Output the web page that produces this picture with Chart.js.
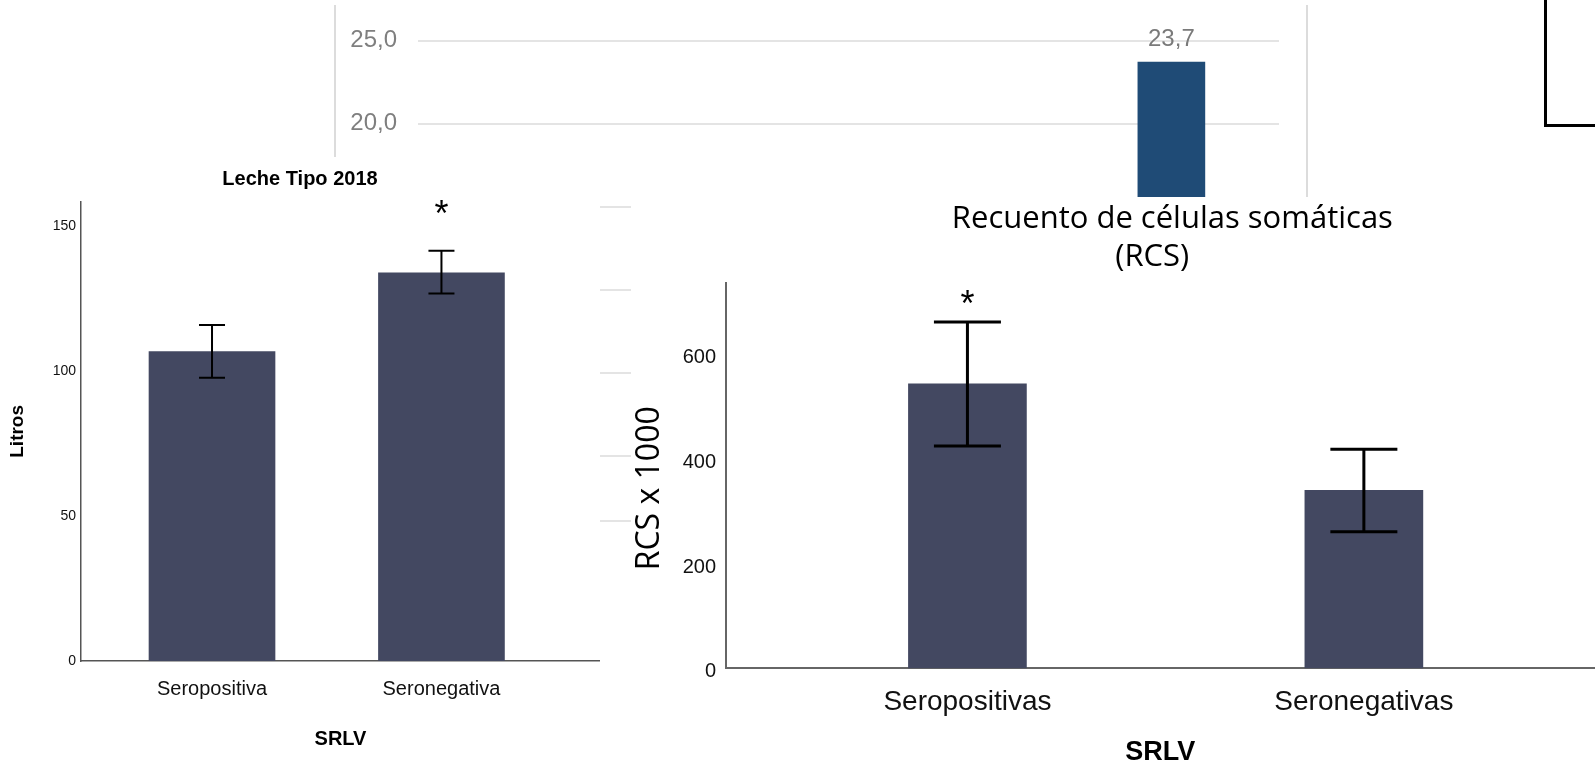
<!DOCTYPE html>
<html>
<head>
<meta charset="utf-8">
<script src="https://cdn.jsdelivr.net/npm/chart.js@4.4.1/dist/chart.umd.min.js"></script>
<style>
  html, body { margin:0; padding:0; background:#fff; width:1595px; height:766px; overflow:hidden; position:relative; }
  canvas { position:absolute; display:block; }
  #topChart { left:0; top:0; z-index:1; }
  #frame { position:absolute; left:334px; top:5px; width:970px; height:200px;
           border-left:2px solid #dcdcdc; border-right:2px solid #dcdcdc; z-index:1; }
  #leftChart { left:0; top:157px; background:#fff; z-index:2; }
  #rightChart { left:631px; top:197px; background:#fff; z-index:3; }
  #box { position:absolute; left:1544px; top:-3px; width:60px; height:127px;
         border-left:3px solid #000; border-bottom:3px solid #000; z-index:4; }
</style>
</head>
<body>
<div id="frame"></div>
<canvas id="topChart" width="1595" height="556"></canvas>
<canvas id="leftChart" width="600" height="609"></canvas>
<canvas id="rightChart" width="964" height="569"></canvas>
<div id="box"></div>
<script>
// ---------- DATA ----------
// Top (partially hidden) chart
const topSlots  = ['1', '2', '3', '4'];
const topValues = [null, null, null, 23.7];

// Left chart: Leche Tipo 2018
const leftCategories = ['Seropositiva', 'Seronegativa'];
const leftMeans      = [106.7, 133.9];
const leftErrLow     = [97.7, 126.7];
const leftErrHigh    = [115.9, 141.5];
const leftMarks      = ['', '*'];
const leftTicks      = [0, 50, 100, 150];

// Right chart: Recuento de células somáticas (RCS)
const rightCategories = ['Seropositivas', 'Seronegativas'];
const rightMeans      = [544, 340];
const rightErrLow     = [425, 261];
const rightErrHigh    = [662, 419];
const rightMarks      = ['*', ''];
const rightTicks      = [0, 200, 400, 600];

// ---------- HELPERS ----------
Chart.defaults.font.family = '"Liberation Sans", Arial, Helvetica, sans-serif';
Chart.defaults.color = '#111';
const fmtComma = v => Number(v).toFixed(1).replace('.', ',');

function makeErrorBars(low, high, cap, width, color) {
  return {
    id: 'errorBars',
    afterDatasetsDraw(chart) {
      const {ctx} = chart, x = chart.scales.x, y = chart.scales.y;
      ctx.save();
      ctx.strokeStyle = color; ctx.lineWidth = width; ctx.lineCap = 'butt';
      low.forEach((lo, i) => {
        const px = x.getPixelForValue(i);
        const pl = y.getPixelForValue(lo), ph = y.getPixelForValue(high[i]);
        ctx.beginPath();
        ctx.moveTo(px, pl); ctx.lineTo(px, ph);
        ctx.moveTo(px - cap / 2, pl); ctx.lineTo(px + cap / 2, pl);
        ctx.moveTo(px - cap / 2, ph); ctx.lineTo(px + cap / 2, ph);
        ctx.stroke();
      });
      ctx.restore();
    }
  };
}
function makeMarks(marks, high, font, offset) {
  return {
    id: 'sigMarks',
    afterDatasetsDraw(chart) {
      const {ctx} = chart, x = chart.scales.x, y = chart.scales.y;
      ctx.save();
      ctx.font = font; ctx.fillStyle = '#000';
      ctx.textAlign = 'center'; ctx.textBaseline = 'alphabetic';
      marks.forEach((m, i) => {
        if (!m) return;
        ctx.fillText(m, x.getPixelForValue(i), y.getPixelForValue(high[i]) - offset);
      });
      ctx.restore();
    }
  };
}
const valueLabels = {
  id: 'valueLabels',
  afterDatasetsDraw(chart) {
    const {ctx} = chart;
    const meta = chart.getDatasetMeta(0);
    const data = chart.data.datasets[0].data;
    ctx.save();
    ctx.font = '24px "Liberation Sans", Arial, sans-serif';
    ctx.fillStyle = '#7a7a7a';
    ctx.textAlign = 'center'; ctx.textBaseline = 'middle';
    meta.data.forEach((bar, i) => {
      if (data[i] == null) return;
      ctx.fillText(fmtComma(data[i]), bar.x, bar.y - 23);
    });
    ctx.restore();
  }
};

// ---------- TOP CHART ----------
new Chart(document.getElementById('topChart'), {
  type: 'bar',
  data: { labels: topSlots, datasets: [{ data: topValues, backgroundColor: '#1f4b76', barThickness: 67 }] },
  options: {
    responsive: false, animation: false, devicePixelRatio: 1,
    layout: { padding: { left: 0, right: 316, top: 40.5, bottom: 15 } },
    plugins: { legend: { display: false }, tooltip: { enabled: false } },
    scales: {
      x: { display: false },
      y: {
        min: -3.9, max: 25,
        ticks: { stepSize: 5, padding: 21, color: '#7f7f7f', font: { size: 24 }, callback: v => fmtComma(v) },
        grid: { color: '#e4e4e4', lineWidth: 2, drawTicks: false },
        border: { display: false },
        afterFit: s => { s.width = 418; }
      }
    }
  },
  plugins: [valueLabels]
});

// ---------- LEFT CHART ----------
new Chart(document.getElementById('leftChart'), {
  type: 'bar',
  data: { datasets: [{
    data: leftCategories.map((c, i) => ({ x: i, y: leftMeans[i] })),
    backgroundColor: '#434861', barThickness: 126
  }] },
  options: {
    responsive: false, animation: false, devicePixelRatio: 1,
    layout: { padding: 0 },
    plugins: {
      legend: { display: false }, tooltip: { enabled: false },
      title: { display: true, text: 'Leche Tipo 2018', color: '#000',
               font: { size: 20, weight: 'bold', lineHeight: 1.2 }, padding: { top: 10, bottom: 10.7 } }
    },
    scales: {
      x: {
        type: 'linear', min: -0.571, max: 1.691, offset: false,
        afterBuildTicks: s => { s.ticks = leftCategories.map((c, i) => ({ value: i })); },
        ticks: { callback: (v, i) => leftCategories[i], padding: 16, autoSkip: false, maxRotation: 0,
                 color: '#111', font: { size: 20 } },
        grid: { display: false, drawTicks: false },
        border: { display: true, color: '#555', width: 1.5 },
        title: { display: true, text: 'SRLV', color: '#000', font: { size: 20, weight: 'bold', lineHeight: 1.2 },
                 padding: { top: 0, bottom: 14.3 } },
        afterFit: s => { s.height = 105; }
      },
      y: {
        min: 0, max: 158.4,
        afterBuildTicks: s => { s.ticks = leftTicks.map(v => ({ value: v })); },
        ticks: { padding: 5, color: '#111', font: { size: 14 } },
        grid: { display: false, drawTicks: false },
        border: { display: true, color: '#555', width: 1.5 },
        title: { display: true, text: 'Litros', color: '#000', font: { size: 19, weight: 'bold', lineHeight: 1.2 },
                 padding: { top: 6.6, bottom: 0 } },
        afterFit: s => { s.width = 81; }
      }
    }
  },
  plugins: [makeErrorBars(leftErrLow, leftErrHigh, 26, 2, '#000'),
            makeMarks(leftMarks, leftErrHigh, '36px "Liberation Sans", Arial, sans-serif', 25)]
});

// ---------- RIGHT CHART ----------
new Chart(document.getElementById('rightChart'), {
  type: 'bar',
  data: { datasets: [{
    data: rightCategories.map((c, i) => ({ x: i, y: rightMeans[i] })),
    backgroundColor: '#434861', barThickness: 118
  }] },
  options: {
    responsive: false, animation: false, devicePixelRatio: 1,
    layout: { padding: 0 },
    plugins: {
      legend: { display: false }, tooltip: { enabled: false },
      title: { display: true, fullSize: false, text: ['   Recuento de células somáticas', '(RCS)  '], color: '#000',
               font: { family: '"Open Sans", "Noto Sans", sans-serif', size: 31, weight: 'normal', lineHeight: 1.226 },
               padding: { top: 3, bottom: 7.3 } }
    },
    scales: {
      x: {
        type: 'linear', min: -0.610, max: 1.583, offset: false,
        afterBuildTicks: s => { s.ticks = rightCategories.map((c, i) => ({ value: i })); },
        ticks: { callback: (v, i) => rightCategories[i], padding: 17.5, autoSkip: false, maxRotation: 0,
                 color: '#111', font: { size: 28 } },
        grid: { display: false, drawTicks: false },
        border: { display: true, color: '#666', width: 2 },
        title: { display: true, text: 'SRLV', color: '#000', font: { size: 27, weight: 'bold', lineHeight: 1.0 },
                 padding: { top: 0, bottom: 0 } },
        afterFit: s => { s.height = 97.7; }
      },
      y: {
        min: 0, max: 736,
        afterBuildTicks: s => { s.ticks = rightTicks.map(v => ({ value: v })); },
        ticks: { padding: 9.6, labelOffset: 3.5, color: '#111', font: { size: 20 } },
        grid: { display: false, drawTicks: false },
        border: { display: true, color: '#666', width: 2 },
        title: { display: true, text: 'RCS x 1000   ', color: '#000',
                 font: { family: '"Open Sans", "Noto Sans", sans-serif', size: 32, weight: 'normal', lineHeight: 1.2 },
                 padding: { top: 0, bottom: 0 } },
        afterFit: s => { s.width = 94.6; }
      }
    }
  },
  plugins: [makeErrorBars(rightErrLow, rightErrHigh, 67, 3, '#000'),
            makeMarks(rightMarks, rightErrHigh, '36px "Liberation Sans", Arial, sans-serif', 6)]
});
</script>
</body>
</html>
